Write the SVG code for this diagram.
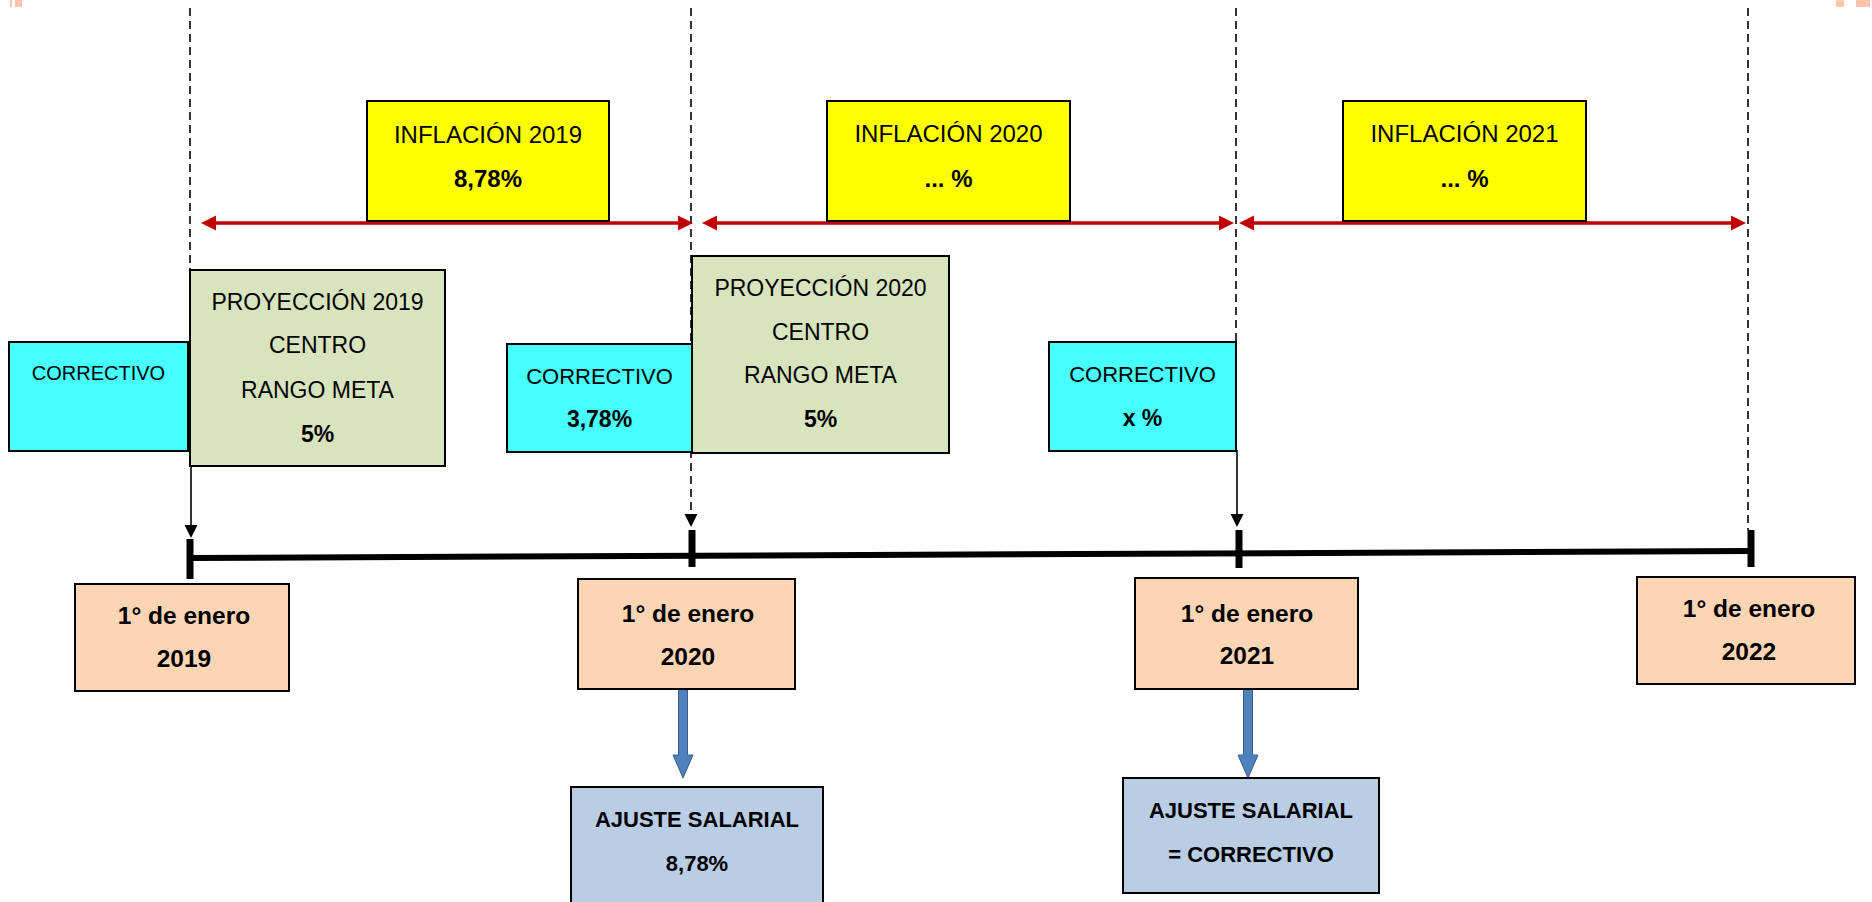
<svg xmlns="http://www.w3.org/2000/svg" width="1872" height="902" viewBox="0 0 1872 902">
  <style>
    text { font-family: "Liberation Sans", Arial, sans-serif; font-size: 23px; fill: #000; text-anchor: middle; }
    .b { font-weight: bold; }
    .t24 { font-size: 24px; }
    .d { font-weight: bold; font-size: 24.5px; }
    .a { font-weight: bold; font-size: 22px; }
    .box { stroke: #000; stroke-width: 2; }
    .yellow { fill: #FFFF00; }
    .cyan { fill: #47FFFF; }
    .olive { fill: #D7E4BD; }
    .peach { fill: #FCD5B5; }
    .blue { fill: #B9CDE5; }
    .dash { stroke: #000; stroke-width: 1.6; stroke-dasharray: 8 5; fill: none; }
    .thin { stroke: #000; stroke-width: 1.6; fill: none; }
    .red { stroke: #C00000; stroke-width: 3.5; fill: none; marker-start: url(#redHead); marker-end: url(#redHead); }
    .axis { stroke: #000; stroke-width: 6; fill: none; }
    .tick { stroke: #000; stroke-width: 7; fill: none; }
    .deco { fill: #FFC4AE; }
  </style>
  <defs>
    <marker id="redHead" viewBox="0 0 16 16" refX="0" refY="8" markerWidth="15" markerHeight="17" markerUnits="userSpaceOnUse" orient="auto-start-reverse">
      <path d="M0,0 L16,8 L0,16 z" fill="#C00000"/>
    </marker>
    <marker id="blackHead" viewBox="0 0 14 14" refX="0" refY="7" markerWidth="13" markerHeight="14" markerUnits="userSpaceOnUse" orient="auto">
      <path d="M0,0 L14,7 L0,14 z" fill="#000"/>
    </marker>
    <path id="blockArrow" d="M-4.5,0 L4.5,0 L4.5,66 L10,66 L0,89 L-10,66 L-4.5,66 z" fill="#4F81BD" stroke="#385D8A" stroke-width="1"/>
  </defs>

  <rect class="deco" x="10" y="0" width="2" height="7"/>
  <rect class="deco" x="15" y="0" width="7" height="7"/>
  <rect class="deco" x="1836" y="0" width="8" height="7"/>
  <rect class="deco" x="1856" y="0" width="14" height="7"/>

  <g id="connectors">
    <line class="dash" x1="190" y1="8" x2="190" y2="270"/>
    <line class="thin" x1="191" y1="466" x2="191" y2="525" marker-end="url(#blackHead)"/>
    <line class="dash" x1="691" y1="8" x2="691" y2="514" marker-end="url(#blackHead)"/>
    <line class="dash" x1="1236" y1="8" x2="1236" y2="343"/>
    <line class="thin" x1="1237" y1="450" x2="1237" y2="514" marker-end="url(#blackHead)"/>
    <line class="dash" x1="1748" y1="8" x2="1748" y2="530"/>

    <line class="red" x1="216" y1="223" x2="678" y2="223"/>
    <line class="red" x1="717" y1="223" x2="1219" y2="223"/>
    <line class="red" x1="1254" y1="223" x2="1731" y2="223"/>

    <line class="axis" x1="190" y1="558" x2="1751" y2="551"/>
    <line class="tick" x1="190" y1="539" x2="190" y2="579"/>
    <line class="tick" x1="692" y1="530" x2="692" y2="567"/>
    <line class="tick" x1="1239" y1="530" x2="1239" y2="568"/>
    <line class="tick" x1="1751" y1="530" x2="1751" y2="567"/>

    <use href="#blockArrow" x="683" y="689"/>
    <use href="#blockArrow" x="1248" y="689"/>
  </g>

  <g id="infl2019">
    <rect class="box yellow" x="367" y="101" width="242" height="120"/>
    <text class="t24" x="488" y="143">INFLACIÓN 2019</text>
    <text class="b t24" x="488" y="187">8,78%</text>
  </g>
  <g id="infl2020">
    <rect class="box yellow" x="827" y="101" width="243" height="120"/>
    <text class="t24" x="948.5" y="142">INFLACIÓN 2020</text>
    <text class="b t24" x="948.5" y="187">... %</text>
  </g>
  <g id="infl2021">
    <rect class="box yellow" x="1343" y="101" width="243" height="120"/>
    <text class="t24" x="1464.5" y="142">INFLACIÓN 2021</text>
    <text class="b t24" x="1464.5" y="187">... %</text>
  </g>

  <g id="corr2019">
    <rect class="box cyan" x="9" y="342" width="179" height="109"/>
    <text x="98.5" y="380" style="font-size:20px">CORRECTIVO</text>
  </g>
  <g id="proy2019">
    <rect class="box olive" x="190" y="270" width="255" height="196"/>
    <text x="317.5" y="310">PROYECCIÓN 2019</text>
    <text x="317.5" y="353">CENTRO</text>
    <text x="317.5" y="398">RANGO META</text>
    <text class="b" x="317.5" y="442">5%</text>
  </g>
  <g id="corr2020">
    <rect class="box cyan" x="507" y="344" width="185" height="108"/>
    <text x="599.5" y="384" style="font-size:22px">CORRECTIVO</text>
    <text class="b" x="599.5" y="427">3,78%</text>
  </g>
  <g id="proy2020">
    <rect class="box olive" x="692" y="256" width="257" height="197"/>
    <text x="820.5" y="296">PROYECCIÓN 2020</text>
    <text x="820.5" y="340">CENTRO</text>
    <text x="820.5" y="383">RANGO META</text>
    <text class="b" x="820.5" y="427">5%</text>
  </g>
  <g id="corr2021">
    <rect class="box cyan" x="1049" y="342" width="187" height="109"/>
    <text x="1142.5" y="382" style="font-size:22px">CORRECTIVO</text>
    <text class="b" x="1142.5" y="426">x %</text>
  </g>

  <g id="date2019">
    <rect class="box peach" x="75" y="584" width="214" height="107"/>
    <text class="d" x="184" y="624">1° de enero</text>
    <text class="d" x="184" y="667">2019</text>
  </g>
  <g id="date2020">
    <rect class="box peach" x="578" y="579" width="217" height="110"/>
    <text class="d" x="688" y="622">1° de enero</text>
    <text class="d" x="688" y="665">2020</text>
  </g>
  <g id="date2021">
    <rect class="box peach" x="1135" y="578" width="223" height="111"/>
    <text class="d" x="1247" y="622">1° de enero</text>
    <text class="d" x="1247" y="664">2021</text>
  </g>
  <g id="date2022">
    <rect class="box peach" x="1637" y="577" width="218" height="107"/>
    <text class="d" x="1749" y="617">1° de enero</text>
    <text class="d" x="1749" y="660">2022</text>
  </g>

  <g id="ajuste2020">
    <rect class="box blue" x="571" y="787" width="252" height="120"/>
    <text class="a" x="697" y="827">AJUSTE SALARIAL</text>
    <text class="a" x="697" y="871">8,78%</text>
  </g>
  <g id="ajuste2021">
    <rect class="box blue" x="1123" y="778" width="256" height="115"/>
    <text class="a" x="1251" y="818">AJUSTE SALARIAL</text>
    <text class="a" x="1251" y="862">= CORRECTIVO</text>
  </g>
</svg>
